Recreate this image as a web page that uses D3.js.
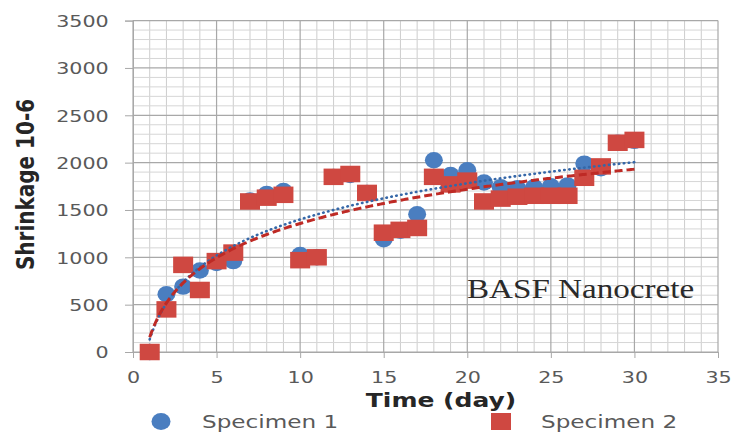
<!DOCTYPE html>
<html>
<head>
<meta charset="utf-8">
<script src="https://cdn.jsdelivr.net/npm/d3@7"></script>
<style>
  html, body { margin: 0; padding: 0; background: #fff; }
  svg { display: block; }
</style>
</head>
<body>
<script>
// Drying shrinkage readings (microstrain) for two specimens, one reading per day
const days = [1,2,3,4,5,6,7,8,9,10,11,12,13,14,15,16,17,18,19,20,21,22,23,24,25,26,27,28,29,30];
const specimen1 = [0,610,690,860,940,960,1600,1670,1700,1025,1000,1850,1870,1680,1190,1280,1455,2025,1870,1920,1790,1740,1730,1740,1750,1760,1990,1940,2210,2230];
const specimen2 = [0,450,920,655,960,1050,1590,1630,1660,970,1000,1850,1880,1680,1260,1290,1310,1850,1770,1810,1590,1620,1640,1650,1650,1650,1840,1960,2210,2240];
const seriesNames = ["Specimen 1", "Specimen 2"];
const xTicks = [0,5,10,15,20,25,30,35];
const yTicks = [0,500,1000,1500,2000,2500,3000,3500];
const xTitle = "Time (day)";
const yTitle = "Shrinkage 10-6";
const note = "BASF Nanocrete";

const W = 732, H = 434;
const plot = { left: 133, right: 718, top: 20.6, bottom: 352 };
const SX = 1.25;                       // horizontal text stretch
const blue = "#4A7EC0", red = "#CF4841";
const blueTrend = "#3567A8", redTrend = "#BE2A25";
const textGray = "#595959", titleInk = "#262626";

const svg = d3.select("body").append("svg").attr("width", W).attr("height", H);

const x = d3.scaleLinear().domain([0, 35]).range([plot.left, plot.right]);
const y = d3.scaleLinear().domain([0, 3500]).range([plot.bottom, plot.top]);

// ---- gridlines: minor (1 day / 100) then major (5 days / 500)
const grid = svg.append("g");
const minorX = d3.range(0, 36).filter(d => d % 5 !== 0);
const minorY = d3.range(0, 3501, 100).filter(d => d % 500 !== 0);
grid.selectAll(".mx").data(minorX).join("line")
  .attr("x1", d => x(d)).attr("x2", d => x(d))
  .attr("y1", plot.top).attr("y2", plot.bottom)
  .attr("stroke", "#CDCDCD").attr("stroke-width", 1);
grid.selectAll(".my").data(minorY).join("line")
  .attr("x1", plot.left).attr("x2", plot.right)
  .attr("y1", d => y(d)).attr("y2", d => y(d))
  .attr("stroke", "#D6D6D6").attr("stroke-width", 1);
grid.selectAll(".Mx").data(xTicks).join("line")
  .attr("x1", d => x(d)).attr("x2", d => x(d))
  .attr("y1", plot.top).attr("y2", plot.bottom)
  .attr("stroke", "#A8A8A8").attr("stroke-width", 1.2);
grid.selectAll(".My").data(yTicks).join("line")
  .attr("x1", plot.left).attr("x2", plot.right)
  .attr("y1", d => y(d)).attr("y2", d => y(d))
  .attr("stroke", "#A8A8A8").attr("stroke-width", 1.2);

// ---- axes
const yAxis = svg.append("g")
  .attr("transform", `translate(${plot.left},0)`)
  .call(d3.axisLeft(y).tickValues(yTicks).tickSize(8).tickFormat(d3.format("d")));
yAxis.select(".domain").attr("stroke", "#A8A8A8");
yAxis.selectAll(".tick line").attr("stroke", "#A8A8A8");
yAxis.selectAll(".tick text")
  .attr("x", -19.5).attr("dy", "0.36em")
  .attr("transform", `scale(${SX},1)`)
  .attr("fill", textGray)
  .style("font-family", "'DejaVu Sans', sans-serif").style("font-size", "16.5px");

const xAxis = svg.append("g")
  .attr("transform", `translate(0,${plot.bottom})`)
  .call(d3.axisBottom(x).tickValues(xTicks).tickSize(6).tickFormat(d3.format("d")));
xAxis.select(".domain").attr("stroke", "#A8A8A8");
xAxis.selectAll(".tick line").attr("stroke", "#A8A8A8");
xAxis.selectAll(".tick text")
  .attr("y", 31).attr("dy", null)
  .attr("transform", `scale(${SX},1)`)
  .attr("fill", textGray)
  .style("font-family", "'DejaVu Sans', sans-serif").style("font-size", "16.5px");

// ---- markers
const pts1 = days.map((d, i) => ({ d, v: specimen1[i] }));
const pts2 = days.map((d, i) => ({ d, v: specimen2[i] }));

svg.append("g").selectAll("ellipse").data(pts1).join("ellipse")
  .attr("cx", p => x(p.d)).attr("cy", p => y(p.v))
  .attr("rx", 9).attr("ry", 8.2)
  .attr("fill", blue);

const sqW = 20, sqH = 16.5;
svg.append("g").selectAll("rect").data(pts2).join("rect")
  .attr("x", p => x(p.d) - sqW / 2).attr("y", p => y(p.v) - sqH / 2)
  .attr("width", sqW).attr("height", sqH)
  .attr("fill", red);

// ---- logarithmic trendlines (least squares on ln(day))
function logFit(xs, ys) {
  const lx = xs.map(Math.log);
  const mx = d3.mean(lx), my = d3.mean(ys);
  let sxy = 0, sxx = 0;
  lx.forEach((v, i) => { sxy += (v - mx) * (ys[i] - my); sxx += (v - mx) * (v - mx); });
  const a = sxy / sxx, b = my - a * mx;
  return t => a * Math.log(t) + b;
}
const span = d3.range(d3.min(days), d3.max(days) + 0.001, 0.1);
const line = f => d3.line().x(t => x(t)).y(t => y(f(t)))(span);

svg.append("path").attr("d", line(logFit(days, specimen1)))
  .attr("fill", "none").attr("stroke", blueTrend).attr("stroke-width", 2.6)
  .attr("stroke-linecap", "round").attr("stroke-dasharray", "0.5,4.5");
svg.append("path").attr("d", line(logFit(days, specimen2)))
  .attr("fill", "none").attr("stroke", redTrend).attr("stroke-width", 3)
  .attr("stroke-dasharray", "8,4");

// ---- texts
function stretchedText(tx, ty, str, opts, rotate) {
  const g = svg.append("g")
    .attr("transform", `translate(${tx},${ty}) scale(${SX},1)` + (rotate ? " rotate(-90)" : ""));
  const t = g.append("text").text(str)
    .attr("text-anchor", opts.anchor || "start")
    .attr("fill", opts.fill)
    .style("font-family", opts.family)
    .style("font-size", opts.size + "px")
    .style("font-weight", opts.weight || "normal");
  return t;
}

stretchedText(34, 184.5, yTitle,
  { anchor: "middle", fill: titleInk, family: "'DejaVu Sans', sans-serif", size: 20, weight: "bold" }, true);
stretchedText(441, 406.5, xTitle,
  { anchor: "middle", fill: titleInk, family: "'DejaVu Sans', sans-serif", size: 20, weight: "bold" });
stretchedText(467, 298, note,
  { anchor: "start", fill: "#2a2a2a", family: "'Liberation Serif', serif", size: 26.5 });

// ---- legend
const legendY = 421.5;
svg.append("ellipse").attr("cx", 161).attr("cy", legendY).attr("rx", 9.5).attr("ry", 8.5).attr("fill", blue);
svg.append("rect").attr("x", 491).attr("y", legendY - 8.5).attr("width", 20).attr("height", 17).attr("fill", red);
stretchedText(202, legendY + 6.5, seriesNames[0],
  { fill: textGray, family: "'DejaVu Sans', sans-serif", size: 18.5 });
stretchedText(541, legendY + 6.5, seriesNames[1],
  { fill: textGray, family: "'DejaVu Sans', sans-serif", size: 18.5 });
</script>
</body>
</html>
